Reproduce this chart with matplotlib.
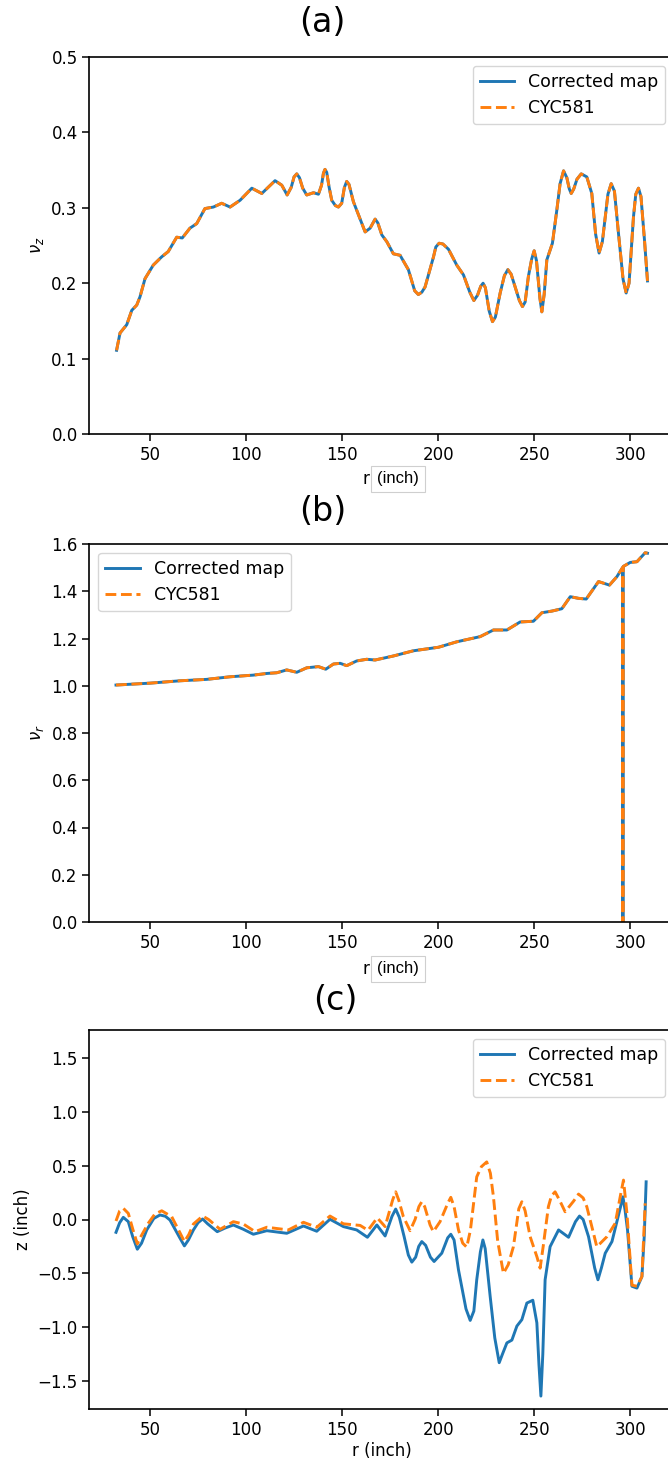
import numpy as np
import matplotlib
matplotlib.use("Agg")
import matplotlib.pyplot as plt

# (a) axial tune vs radius
r_a = [32.6, 34.4, 37.9, 40.5, 43.1, 44.8, 47.4, 51.7, 56.1, 59.5, 63.9, 66.8, 70.8, 74.3,
       78.6, 83.0, 87.3, 91.7, 96.9, 103.0, 108.2, 115.1, 118.6, 121.4, 123.5, 125.0, 126.4,
       127.8, 129.5, 131.6, 135.1, 137.7, 139.3, 140.3, 141.1, 142.0, 143.2, 144.6, 146.5,
       148.1, 149.8, 151.2, 152.4, 153.6, 155.9, 162.0, 164.6, 167.2, 168.6, 170.7, 173.3,
       176.7, 180.2, 184.5, 187.8, 189.7, 191.5, 193.2, 197.6, 198.8, 200.5, 202.5, 205.4,
       209.7, 213.2, 216.5, 218.6, 220.5, 222.2, 223.4, 224.6, 226.6, 228.3, 229.8, 232.3,
       234.5, 236.3, 238.0, 240.1, 242.3, 243.9, 245.3, 247.0, 248.7, 250.0, 251.2, 253.0,
       254.0, 255.2, 256.6, 259.5, 261.8, 263.5, 265.3, 267.0, 268.3, 269.3, 270.6, 272.3,
       274.5, 277.4, 280.0, 282.0, 283.8, 285.5, 288.4, 290.1, 291.8, 293.9, 296.3, 297.9,
       299.4, 301.7, 302.9, 304.3, 305.6, 307.5, 309.0]
nu_z_map = [0.111, 0.134, 0.145, 0.164, 0.171, 0.182, 0.206, 0.224, 0.235, 0.242, 0.261, 0.260,
            0.273, 0.279, 0.299, 0.301, 0.306, 0.301, 0.310, 0.326, 0.319, 0.336, 0.330, 0.317,
            0.327, 0.341, 0.345, 0.340, 0.326, 0.317, 0.320, 0.318, 0.330, 0.346, 0.351, 0.347,
            0.328, 0.310, 0.303, 0.301, 0.306, 0.327, 0.335, 0.331, 0.308, 0.268, 0.273, 0.285,
            0.280, 0.264, 0.255, 0.239, 0.237, 0.218, 0.190, 0.185, 0.188, 0.195, 0.235, 0.248,
            0.253, 0.252, 0.245, 0.224, 0.211, 0.188, 0.177, 0.184, 0.196, 0.200, 0.194, 0.163,
            0.149, 0.155, 0.187, 0.210, 0.218, 0.212, 0.195, 0.177, 0.169, 0.175, 0.209, 0.232,
            0.243, 0.230, 0.180, 0.162, 0.185, 0.231, 0.253, 0.297, 0.332, 0.349, 0.340, 0.325,
            0.319, 0.325, 0.338, 0.345, 0.341, 0.319, 0.265, 0.240, 0.255, 0.318, 0.332, 0.322,
            0.266, 0.205, 0.187, 0.200, 0.288, 0.318, 0.326, 0.315, 0.255, 0.203]
nu_z_cyc = list(nu_z_map)

# (b) radial tune vs radius
r_b = [32.3, 50.0, 65.6, 79.5, 91.7, 103.8, 110.8, 116.0, 121.2, 126.4, 131.6, 137.7, 141.5,
       145.5, 149.0, 152.4, 157.6, 162.8, 167.2, 176.7, 187.1, 200.2, 209.7, 221.9, 228.8,
       235.8, 242.7, 249.6, 254.0, 259.2, 264.4, 268.8, 273.1, 277.1, 283.5, 289.2, 293.1,
       296.0, 296.2, 296.4, 300.0, 303.5, 307.8, 309.0]
nu_r_map = [1.003, 1.011, 1.021, 1.027, 1.038, 1.045, 1.052, 1.055, 1.067, 1.057, 1.076, 1.081,
            1.070, 1.092, 1.095, 1.085, 1.105, 1.112, 1.109, 1.126, 1.148, 1.163, 1.186, 1.208,
            1.236, 1.236, 1.270, 1.273, 1.309, 1.316, 1.326, 1.377, 1.370, 1.367, 1.441, 1.426,
            1.462, 1.500, 0.0, 1.505, 1.522, 1.525, 1.563, 1.561]
nu_r_cyc = list(nu_r_map)

# (c) closed-orbit z vs radius
r_c_map = [32.3, 34.2, 36.1, 38.7, 41.0, 43.4, 45.6, 48.3, 52.0, 55.2, 58.0, 60.4, 65.5, 67.9,
           70.0, 72.6, 75.0, 77.4, 80.0, 85.0, 89.0, 93.4, 98.5, 103.8, 110.8, 121.2, 129.9,
           136.8, 143.7, 150.7, 157.6, 163.2, 168.1, 172.4, 176.0, 177.9, 179.8, 182.3, 184.5,
           186.3, 188.3, 189.9, 191.5, 193.5, 196.0, 197.9, 201.9, 205.0, 206.6, 208.3, 210.6,
           214.5, 216.7, 218.6, 220.1, 222.0, 223.3, 224.5, 227.1, 229.5, 231.8, 233.5, 235.8,
           238.4, 241.0, 243.6, 246.2, 249.3, 251.4, 252.5, 253.5, 254.5, 255.7, 258.3, 262.7,
           267.9, 271.5, 273.6, 275.5, 278.3, 281.5, 283.2, 285.0, 287.0, 290.5, 295.0, 296.2,
           297.3, 298.6, 300.9, 303.5, 306.1, 307.3, 308.3]
z_map = [-0.119, -0.030, 0.020, -0.020, -0.160, -0.276, -0.220, -0.097, 0.010, 0.042, 0.030,
         -0.005, -0.170, -0.245, -0.190, -0.097, -0.030, 0.005, -0.040, -0.113, -0.080, -0.051,
         -0.090, -0.137, -0.104, -0.128, -0.060, -0.109, 0.002, -0.066, -0.097, -0.165, -0.051,
         -0.153, 0.030, 0.097, 0.020, -0.159, -0.330, -0.396, -0.350, -0.250, -0.205, -0.240,
         -0.350, -0.390, -0.313, -0.170, -0.137, -0.190, -0.468, -0.830, -0.937, -0.850, -0.560,
         -0.300, -0.190, -0.270, -0.715, -1.100, -1.330, -1.250, -1.146, -1.120, -0.990, -0.930,
         -0.776, -0.750, -0.960, -1.350, -1.640, -1.250, -0.560, -0.252, -0.097, -0.165, -0.020,
         0.032, 0.000, -0.159, -0.450, -0.560, -0.450, -0.313, -0.205, 0.120, 0.211, 0.090,
         -0.097, -0.620, -0.637, -0.530, -0.159, 0.350]
r_c_cyc = [32.3, 34.2, 36.1, 38.7, 41.2, 43.4, 45.5, 49.1, 52.5, 56.1, 61.3, 65.5, 67.9, 70.2,
           72.6, 77.4, 80.5, 86.5, 93.4, 98.6, 104.7, 110.8, 122.0, 129.9, 136.8, 143.7, 150.7,
           159.4, 163.5, 168.3, 172.4, 176.3, 177.9, 179.5, 181.9, 185.4, 188.0, 190.0, 191.5,
           193.0, 195.8, 197.5, 201.0, 205.0, 206.6, 208.3, 210.6, 212.8, 214.9, 216.8, 220.1,
           222.5, 225.3, 227.2, 228.8, 231.0, 234.0, 236.5, 239.2, 242.0, 243.6, 245.3, 247.9,
           251.5, 253.1, 254.7, 257.4, 259.0, 260.9, 263.2, 266.1, 270.5, 273.1, 275.5, 277.4,
           280.5, 282.6, 284.5, 287.9, 292.2, 295.2, 296.5, 298.3, 300.9, 303.5, 306.1, 307.8]
z_cyc = [-0.014, 0.080, 0.104, 0.057, -0.100, -0.227, -0.150, -0.035, 0.050, 0.081, 0.026,
         -0.120, -0.205, -0.140, -0.042, 0.032, 0.000, -0.091, -0.020, -0.042, -0.113, -0.072,
         -0.097, -0.026, -0.072, 0.032, -0.040, -0.055, -0.100, 0.015, -0.066, 0.180, 0.257,
         0.180, 0.026, -0.104, 0.000, 0.120, 0.165, 0.120, -0.050, -0.113, -0.020, 0.150, 0.206,
         0.120, -0.097, -0.220, -0.257, -0.100, 0.396, 0.490, 0.535, 0.430, 0.211, -0.200,
         -0.500, -0.420, -0.252, 0.100, 0.165, 0.080, -0.159, -0.350, -0.452, -0.250, 0.119,
         0.220, 0.257, 0.180, 0.072, 0.170, 0.236, 0.200, 0.119, -0.100, -0.252, -0.220, -0.159,
         -0.035, 0.250, 0.366, 0.057, -0.610, -0.620, -0.530, 0.150]

plt.rcParams.update({
    "font.size": 12,
    "legend.fontsize": 12.5,
    "axes.linewidth": 1.2,
    "xtick.major.size": 5,
    "ytick.major.size": 5,
    "xtick.major.width": 1.1,
    "ytick.major.width": 1.1,
    "lines.linewidth": 2.1,
})

W, H = 668, 1464
fig = plt.figure(figsize=(W / 100, H / 100), dpi=100)


def panel(left, top, right, bottom):
    return fig.add_axes([left / W, 1 - bottom / H, (right - left) / W, (bottom - top) / H])


ax_a = panel(89.5, 57, 674, 434)
ax_b = panel(89.5, 544, 674, 922)
ax_c = panel(89.5, 1030, 674, 1409)

ax_a.plot(r_a, nu_z_map, color="tab:blue", label="Corrected map")
ax_a.plot(r_a, nu_z_cyc, "--", color="tab:orange", label="CYC581")
ax_a.set_ylim(0, 0.5)
ax_a.set_ylabel(r"$\nu_z$")
ax_a.legend(loc="upper right")

ax_b.plot(r_b, nu_r_map, color="tab:blue", label="Corrected map")
ax_b.plot(r_b, nu_r_cyc, "--", color="tab:orange", label="CYC581")
ax_b.set_ylim(0, 1.6)
ax_b.set_ylabel(r"$\nu_r$")
ax_b.legend(loc="upper left")

ax_c.plot(r_c_map, z_map, color="tab:blue", label="Corrected map")
ax_c.plot(r_c_cyc, z_cyc, "--", color="tab:orange", label="CYC581")
ax_c.set_ylim(-1.76, 1.76)
ax_c.set_yticks(np.arange(-1.5, 1.51, 0.5))
ax_c.set_ylabel("z (inch)")
ax_c.set_xlabel("r (inch)", labelpad=2)
ax_c.legend(loc="upper right")

for ax in (ax_a, ax_b, ax_c):
    ax.set_xlim(18.5, 322.8)
    ax.set_xticks([50, 100, 150, 200, 250, 300])

# panel letters
for letter, x, y in (("(a)", 322, 22), ("(b)", 323, 512), ("(c)", 335, 1000)):
    fig.text(x / W, 1 - y / H, letter, fontsize=24, ha="center", va="center")

# x labels of (a) and (b): "r" plus a boxed unit
for y in (479, 969):
    fig.text(366 / W, 1 - y / H, "r", ha="center", va="center", fontsize=12)
    fig.text(398 / W, 1 - y / H, "(inch)", ha="center", va="center", fontsize=12,
             family="Liberation Sans",
             bbox=dict(boxstyle="square,pad=0.35", fc="white", ec="#cfcfcf", lw=0.8))

fig.savefig("out.png", dpi=100)
